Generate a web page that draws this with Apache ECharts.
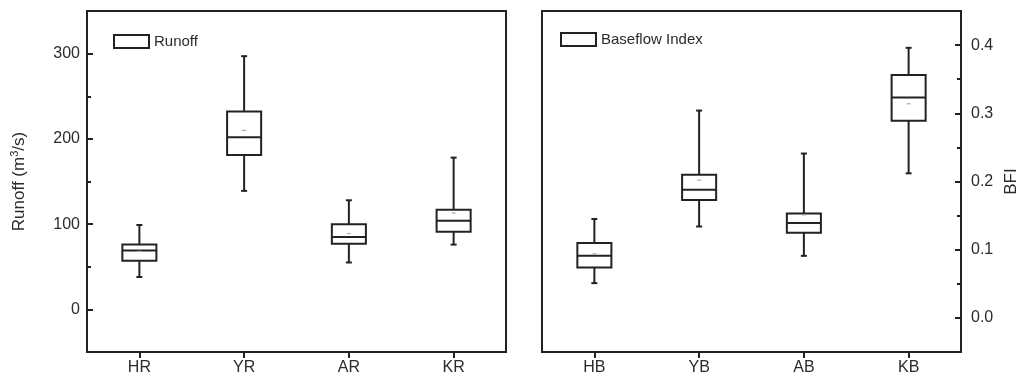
<!DOCTYPE html>
<html>
<head>
<meta charset="utf-8">
<script src="https://cdn.jsdelivr.net/npm/echarts@6/dist/echarts.min.js"></script>
<style>
html,body{margin:0;padding:0;background:#fff;}
#chart{width:1024px;height:385px;}
</style>
</head>
<body>
<div id="chart"></div>
<script>
// ---- data ----
const runoffCats = ['HR', 'YR', 'AR', 'KR'];
const runoffMin = [38, 139, 55, 76];
const runoffQ1 = [57, 181, 77, 91];
const runoffMedian = [69, 202, 85, 104];
const runoffQ3 = [76, 232, 100, 117];
const runoffMax = [99, 297, 128, 178];
const runoffMean = [68, 210, 89, 113];

const bfiCats = ['HB', 'YB', 'AB', 'KB'];
const bfiMin = [0.051, 0.134, 0.091, 0.212];
const bfiQ1 = [0.074, 0.173, 0.125, 0.289];
const bfiMedian = [0.091, 0.188, 0.139, 0.323];
const bfiQ3 = [0.110, 0.210, 0.153, 0.356];
const bfiMax = [0.145, 0.304, 0.241, 0.396];
const bfiMean = [0.094, 0.202, 0.151, 0.314];

const runoffMajorTicks = [0, 100, 200, 300];
const runoffMinorTicks = [50, 150, 250];
const bfiMajorTicks = [0, 0.1, 0.2, 0.3, 0.4];
const bfiMinorTicks = [0.05, 0.15, 0.25, 0.35];

// ---- build ----
function rows(cats, mn, q1, md, q3, mx, mean) {
  return cats.map((c, i) => [i, mn[i], q1[i], md[i], q3[i], mx[i], mean[i]]);
}
const INK = '#222';
const TXT = '#2b2b2b';
const FONT = 'Arial, "Liberation Sans", sans-serif';

function renderBox(params, api) {
  const i = api.value(0);
  const lo = api.coord([i, api.value(1)]);
  const q1 = api.coord([i, api.value(2)]);
  const md = api.coord([i, api.value(3)]);
  const q3 = api.coord([i, api.value(4)]);
  const hi = api.coord([i, api.value(5)]);
  const mn = api.coord([i, api.value(6)]);
  const bw = api.size([1, 0])[0] * 0.325;
  const cx = lo[0];
  const cap = 3;
  const ls = { stroke: INK, lineWidth: 2, fill: null };
  return {
    type: 'group',
    children: [
      { type: 'line', shape: { x1: cx, y1: hi[1], x2: cx, y2: q3[1] }, style: ls },
      { type: 'line', shape: { x1: cx, y1: q1[1], x2: cx, y2: lo[1] }, style: ls },
      { type: 'line', shape: { x1: cx - cap, y1: hi[1], x2: cx + cap, y2: hi[1] }, style: ls },
      { type: 'line', shape: { x1: cx - cap, y1: lo[1], x2: cx + cap, y2: lo[1] }, style: ls },
      { type: 'rect', shape: { x: cx - bw / 2, y: q3[1], width: bw, height: q1[1] - q3[1] },
        style: { stroke: INK, lineWidth: 2, fill: '#fff' } },
      { type: 'line', shape: { x1: cx - bw / 2, y1: md[1], x2: cx + bw / 2, y2: md[1] }, style: ls },
      { type: 'line', shape: { x1: cx - 2, y1: mn[1], x2: cx + 2, y2: mn[1] },
        style: { stroke: '#aaa', lineWidth: 1.2 } }
    ]
  };
}

const chart = echarts.init(document.getElementById('chart'), null, { renderer: 'canvas' });

const gridCommon = { top: 11, width: 419, height: 341, show: true, borderColor: INK, borderWidth: 2, backgroundColor: 'transparent' };

function catAxis(gi, cats) {
  return {
    type: 'category', gridIndex: gi, data: cats, boundaryGap: true,
    axisLine: { show: true, onZero: false, lineStyle: { color: INK, width: 2 } },
    axisTick: { show: true, alignWithLabel: true, inside: false, length: 6, lineStyle: { color: INK, width: 2 } },
    axisLabel: { color: TXT, fontSize: 16, fontFamily: FONT, margin: 8 },
    splitLine: { show: false }
  };
}

const option = {
  animation: false,
  backgroundColor: '#fff',
  grid: [
    Object.assign({ left: 87 }, gridCommon),
    Object.assign({ left: 542 }, gridCommon)
  ],
  legend: [
    {
      left: 108, top: 29, itemWidth: 35, itemHeight: 13, itemGap: 5,
      textStyle: { color: TXT, fontSize: 15, fontFamily: FONT },
      data: [{ name: 'Runoff', icon: 'rect', itemStyle: { color: '#fff', borderColor: INK, borderWidth: 2 } }]
    },
    {
      left: 555, top: 27, itemWidth: 35, itemHeight: 13, itemGap: 5,
      textStyle: { color: TXT, fontSize: 15, fontFamily: FONT },
      data: [{ name: 'Baseflow Index', icon: 'rect', itemStyle: { color: '#fff', borderColor: INK, borderWidth: 2 } }]
    }
  ],
  xAxis: [catAxis(0, runoffCats), catAxis(1, bfiCats)],
  yAxis: [
    {
      type: 'value', gridIndex: 0, position: 'left', min: -50, max: 350,
      name: 'Runoff (m{sup|3}/s)', nameLocation: 'middle', nameGap: 58, nameRotate: 90,
      nameTextStyle: { color: TXT, fontSize: 17, fontFamily: FONT,
        rich: { sup: { fontSize: 11, verticalAlign: 'top', color: TXT, fontFamily: FONT, padding: [0, 0, 9, 0] } } },
      axisLine: { show: true, onZero: false, lineStyle: { color: INK, width: 2 } },
      axisTick: { show: true, inside: true, length: 6, customValues: runoffMajorTicks, lineStyle: { color: INK, width: 2 } },
      axisLabel: { color: TXT, fontSize: 16, fontFamily: FONT, margin: 7, customValues: runoffMajorTicks },
      splitLine: { show: false }
    },
    {
      type: 'value', gridIndex: 0, position: 'left', min: -50, max: 350,
      axisLine: { show: false, onZero: false },
      axisTick: { show: true, inside: true, length: 4, customValues: runoffMinorTicks, lineStyle: { color: INK, width: 2 } },
      axisLabel: { show: false },
      splitLine: { show: false }
    },
    {
      type: 'value', gridIndex: 1, position: 'right', min: -0.05, max: 0.45,
      name: 'BFI', nameLocation: 'middle', nameGap: 42, nameRotate: 90,
      nameTextStyle: { color: TXT, fontSize: 17, fontFamily: FONT },
      axisLine: { show: true, onZero: false, lineStyle: { color: INK, width: 2 } },
      axisTick: { show: true, inside: true, length: 6, customValues: bfiMajorTicks, lineStyle: { color: INK, width: 2 } },
      axisLabel: { color: TXT, fontSize: 16, fontFamily: FONT, margin: 10, customValues: bfiMajorTicks,
        formatter: v => Number(v).toFixed(1) },
      splitLine: { show: false }
    },
    {
      type: 'value', gridIndex: 1, position: 'right', min: -0.05, max: 0.45,
      axisLine: { show: false, onZero: false },
      axisTick: { show: true, inside: true, length: 4, customValues: bfiMinorTicks, lineStyle: { color: INK, width: 2 } },
      axisLabel: { show: false },
      splitLine: { show: false }
    }
  ],
  series: [
    {
      name: 'Runoff', type: 'custom', xAxisIndex: 0, yAxisIndex: 0,
      itemStyle: { color: '#fff', borderColor: INK, borderWidth: 2 },
      encode: { x: 0, y: [1, 2, 3, 4, 5] },
      renderItem: renderBox,
      data: rows(runoffCats, runoffMin, runoffQ1, runoffMedian, runoffQ3, runoffMax, runoffMean)
    },
    {
      name: 'Baseflow Index', type: 'custom', xAxisIndex: 1, yAxisIndex: 2,
      itemStyle: { color: '#fff', borderColor: INK, borderWidth: 2 },
      encode: { x: 0, y: [1, 2, 3, 4, 5] },
      renderItem: renderBox,
      data: rows(bfiCats, bfiMin, bfiQ1, bfiMedian, bfiQ3, bfiMax, bfiMean)
    }
  ]
};
chart.setOption(option);
</script>
</body>
</html>
